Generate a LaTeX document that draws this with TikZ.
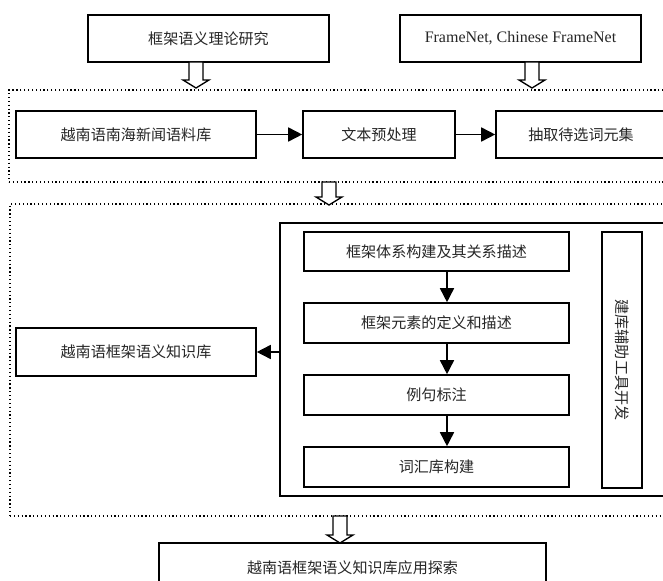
\documentclass[tikz,border=0pt]{standalone}
\usepackage{fontspec}
\setmainfont{Liberation Serif}
\newfontfamily\cjk{Noto Sans CJK SC}
\usetikzlibrary{arrows.meta,calc}
\begin{document}
\begin{tikzpicture}[x=0.75pt,y=-0.75pt,
  wh/.style 2 args={minimum width=#1*0.75pt, minimum height=#2*0.75pt},
  box/.style={draw, line width=1.2pt, rectangle, inner sep=0pt, fill=white,
    font=\cjk\fontsize{11.3}{13}\selectfont, text=black!85},
  dotbox/.style={draw, line width=0.9pt, dotted, rectangle, inner sep=0pt},
  flow/.style={line width=1.2pt, -{Triangle[length=10.5pt,width=10.5pt]}},
  harrow/.pic={\draw[line width=1pt, fill=white] (-7,0) -- (7,0) -- (7,#1-8) -- (13,#1-8) -- (0,#1) -- (-13,#1-8) -- (-7,#1-8) -- cycle;}
]
\useasboundingbox (0,0) rectangle (663,581);
\clip (0,0) rectangle (663,581);

% dotted groups
\node[dotbox, wh={691}{92}] (g1) at (354.5,136) {};
\node[dotbox, wh={690}{312}] (g2) at (355,360) {};

% top boxes
\node[box, wh={241}{47}] (b1) at (208.5,38.5) {框架语义理论研究};
\node[box, wh={241}{47}, font=\fontsize{12}{14}\selectfont] (b2) at (520.5,38.5) {FrameNet, Chinese FrameNet};

% first group
\node[box, wh={240}{47}] (c1) at (136,134.5) {越南语南海新闻语料库};
\node[box, wh={152}{47}] (c2) at (379,134.5) {文本预处理};
\node[box, wh={170}{47}] (c3) at (581,134.5) {抽取待选词元集};
\draw[flow] (c1) -- (c2);
\draw[flow] (c2) -- (c3);

% second group
\node[box, wh={420}{273}] (I) at (490,359.5) {};
\node[box, wh={265}{39}] (A) at (436.5,251.5) {框架体系构建及其关系描述};
\node[box, wh={265}{40}] (B) at (436.5,323) {框架元素的定义和描述};
\node[box, wh={265}{40}] (C) at (436.5,395) {例句标注};
\node[box, wh={265}{40}] (D) at (436.5,467) {词汇库构建};
\node[box, rotate=-90, wh={256}{40}] (V) at (622,360) {建库辅助工具开发};
\node[box, wh={240}{48}] (K) at (136,352) {越南语框架语义知识库};
\coordinate (ax) at (447,0);
\draw[flow] (A.south -| ax) -- (B.north -| ax);
\draw[flow] (B.south -| ax) -- (C.north -| ax);
\draw[flow] (C.south -| ax) -- (D.north -| ax);
\draw[flow] (I.west |- K.east) -- (K.east);

% final box
\node[box, wh={387}{50}] (F) at (352.5,568) {越南语框架语义知识库应用探索};

% hollow arrows
\pic at (196,62) {harrow=26};
\pic at (532,62) {harrow=26};
\pic at (329,182) {harrow=23};
\pic at (340,516) {harrow=27};
\end{tikzpicture}
\end{document}
